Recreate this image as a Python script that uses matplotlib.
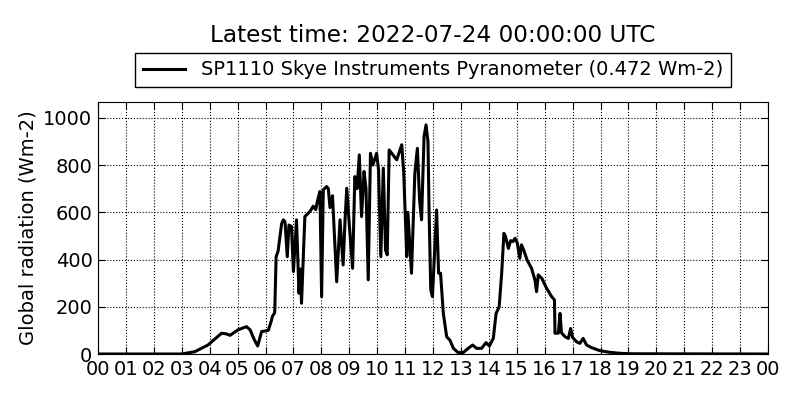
from matplotlib import pyplot as plt
import numpy as np

# hours since 00 UTC and global radiation (Wm-2)
hours = [0.0, 3.0, 3.47, 3.94, 4.2, 4.43, 4.6, 4.73, 5.01, 5.32, 5.45, 5.6, 5.72, 5.86,
         6.1, 6.2, 6.25, 6.33, 6.38, 6.45, 6.58, 6.64, 6.7, 6.78, 6.84, 6.93, 7.0, 7.11,
         7.2, 7.25, 7.29, 7.41, 7.53, 7.59, 7.71, 7.8, 7.87, 7.95, 8.01, 8.07, 8.19, 8.25,
         8.31, 8.4, 8.55, 8.67, 8.78, 8.85, 8.91, 9.0, 9.12, 9.2, 9.28, 9.36, 9.44, 9.53,
         9.6, 9.68, 9.76, 9.85, 9.98, 10.05, 10.13, 10.22, 10.3, 10.36, 10.43, 10.7, 10.88,
         10.95, 11.06, 11.1, 11.16, 11.23, 11.35, 11.44, 11.52, 11.59, 11.68, 11.75, 11.82,
         11.86, 11.92, 11.98, 12.13, 12.2, 12.27, 12.37, 12.49, 12.61, 12.73, 12.9, 13.08,
         13.26, 13.42, 13.56, 13.74, 13.9, 14.02, 14.16, 14.26, 14.37, 14.46, 14.54, 14.6,
         14.7, 14.78, 14.86, 14.94, 15.02, 15.11, 15.17, 15.25, 15.37, 15.53, 15.65, 15.71,
         15.77, 15.9, 16.07, 16.25, 16.35, 16.37, 16.49, 16.55, 16.6, 16.73, 16.85, 16.93,
         17.0, 17.14, 17.26, 17.38, 17.5, 17.68, 17.98, 18.34, 18.7, 19.05, 24.0]
radiation = [0, 0, 10, 38, 65, 88, 85, 79, 102, 116, 102, 60, 34, 95,
             100, 137, 160, 175, 412, 435, 553, 568, 560, 412, 546, 540, 349, 568,
             257, 360, 215, 582, 596, 603, 626, 611, 652, 688, 243, 695, 709, 700,
             620, 670, 306, 568, 377, 568, 702, 550, 363, 751, 700, 843, 582, 773,
             700, 314, 850, 800, 850, 780, 412, 787, 440, 420, 864, 822, 886,
             770, 412, 600, 480, 342, 765, 871, 650, 568, 921, 970, 900,
             600, 271, 243, 610, 342, 342, 172, 73, 58, 24, 6, 6,
             24, 38, 24, 24, 48, 34, 66, 172, 200, 342, 511, 497,
             447, 480, 476, 490, 470, 405, 462, 440, 398, 363, 314, 264,
             335, 320, 278, 243, 229, 88, 88, 172, 90, 73, 66, 108,
             70, 52, 45, 66, 38, 27, 14, 7, 3, 1, 0]

hour_labels = ["%02d" % (h % 24) for h in range(25)]
title = "Latest time: 2022-07-24 00:00:00 UTC"
label = "SP1110 Skye Instruments Pyranometer (0.472 Wm-2)"

fig, ax = plt.subplots(figsize=(8, 4), dpi=100)
fig.subplots_adjust(left=0.1225, right=0.96, top=0.745, bottom=0.115)

ax.plot(hours, radiation, color="black", lw=2.2, label=label)

ax.set_xlim(0, 24)
ax.set_ylim(0, max(radiation) * 1.1)
ax.set_xticks(range(25))
ax.set_xticklabels(hour_labels)
ax.set_yticks(np.arange(0, 1001, 200))
ax.tick_params(direction="in", top=True, right=True, labelsize=14, length=5, pad=4)
ax.grid(True, color="black", linestyle=":", lw=0.8)
ax.set_ylabel("Global radiation (Wm-2)", fontsize=14)

leg = ax.legend(loc="lower center", bbox_to_anchor=(0.5, 1.02), fontsize=14,
                fancybox=False, edgecolor="black", handlelength=2.2,
                borderpad=0.4, framealpha=1)
leg.get_frame().set_linewidth(1.0)
ax.set_title(title, fontsize=16.7, pad=43)

fig.savefig("out.png")
